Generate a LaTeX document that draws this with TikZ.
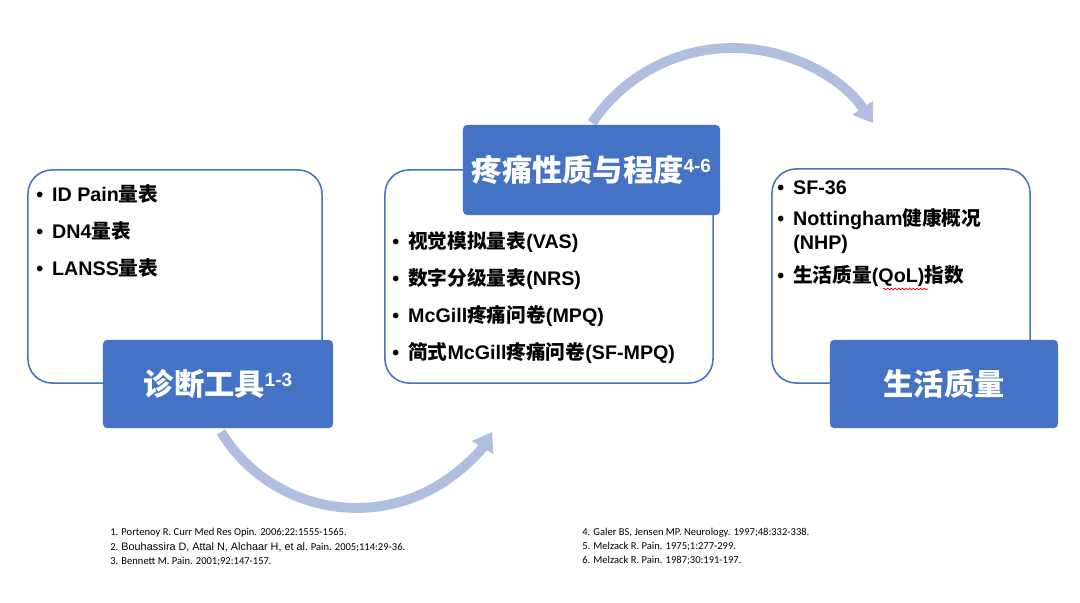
\documentclass[tikz,border=0pt]{standalone}
\usepackage{fontspec}
\setmainfont{Liberation Sans}
\newfontfamily\cjk{Noto Sans CJK SC}
\newfontfamily\calib{Carlito}
\usetikzlibrary{arrows.meta,decorations.pathmorphing}
\definecolor{boxblue}{RGB}{68,114,196}
\definecolor{arcblue}{RGB}{176,190,223}
\newcommand{\zh}[1]{{\cjk #1}}
\newcommand{\refmark}[1]{\raisebox{6.5pt}{\fontsize{13.5}{14}\selectfont #1}}
\newcommand{\itm}{•\hspace{6.4pt}}

\begin{document}
\begin{tikzpicture}[x=0.025cm,y=-0.025cm,
  frame/.style={draw=boxblue,line width=1.1pt,rounded corners=0.6cm,fill=white},
  title/.style={fill=boxblue,rounded corners=3pt,text=white,inner sep=0pt,
    font=\bfseries\fontsize{21.5}{24}\selectfont},
  item/.style={anchor=base west,inner sep=0pt,font=\bfseries\fontsize{14}{16}\selectfont},
  flow/.style={line width=7pt,color=arcblue,-{Triangle[length=13pt,width=17pt]}},
  refs/.style={anchor=base west,inner sep=0pt,font=\calib\fontsize{7.5}{9}\selectfont}]
\fill [white] (0,0) rectangle (1080,603);
\useasboundingbox (0,0) rectangle (1080,603);

\node [frame,minimum width=7.35cm,minimum height=5.325cm] (diagframe) at (175,276.5) {};
\node [frame,minimum width=8.2cm,minimum height=5.325cm] (painframe) at (549,276.5) {};
\node [frame,minimum width=6.45cm,minimum height=5.35cm] (lifeframe) at (901,276) {};

\coordinate (lowstart) at (221,432);
\coordinate (upstart) at (592,123);
\draw [flow] (lowstart) arc [start angle=148.5,end angle=31.5,radius=159];
\draw [flow] (upstart) arc [start angle=213.8,end angle=326.2,radius=169];

\node [title,minimum width=5.75cm,minimum height=2.2cm] (diag) at (218,384) {\zh{诊断工具}\refmark{1-3}};
\node [title,minimum width=6.425cm,minimum height=2.25cm] (pain) at (591.5,170) {\zh{疼痛性质与程度}\refmark{4-6}};
\node [title,minimum width=5.7cm,minimum height=2.2cm] (life) at (944,384) {\zh{生活质量}};

\node [item] (diag1) at (36,202) {\itm ID Pain\zh{量表}};
\node [item] (diag2) at (36,239) {\itm DN4\zh{量表}};
\node [item] (diag3) at (36,276) {\itm LANSS\zh{量表}};

\node [item] (pain1) at (392,249) {\itm\zh{视觉模拟量表}(VAS)};
\node [item] (pain2) at (392,286) {\itm\zh{数字分级量表}(NRS)};
\node [item] (pain3) at (392,323) {\itm McGill\zh{疼痛问卷}(MPQ)};
\node [item] (pain4) at (392,360) {\itm\zh{简式}McGill\zh{疼痛问卷}(SF-MPQ)};

\node [item] (life1) at (777,195) {\itm SF-36};
\node [item] (life2) at (777,226) {\itm Nottingham\zh{健康概况}};
\node [item] (life2b) at (793,250) {(NHP)};
\node [item] (life3) at (777,283) {\itm\zh{生活质量}(QoL)\zh{指数}};
\draw [red,line width=0.5pt,decorate,decoration={snake,amplitude=0.6pt,segment length=2.6pt}] (883,289) -- (928,289);

\node [refs] (ref1) at (110,535) {1. Portenoy R. Curr Med Res Opin. 2006;22:1555-1565.};
\node [refs] (ref2) at (110,550) {2. {\rmfamily\fontsize{7.7}{9}\selectfont Bouhassira D, Attal N, Alchaar H, et al}. Pain. 2005;114:29-36.};
\node [refs] (ref3) at (110,564) {3. Bennett M. Pain. 2001;92:147-157.};
\node [refs] (ref4) at (582,535) {4. Galer BS, Jensen MP. Neurology. 1997;48:332-338.};
\node [refs] (ref5) at (582,549) {5. Melzack R. Pain. 1975;1:277-299.};
\node [refs] (ref6) at (582,563) {6. Melzack R. Pain. 1987;30:191-197.};
\end{tikzpicture}
\end{document}
